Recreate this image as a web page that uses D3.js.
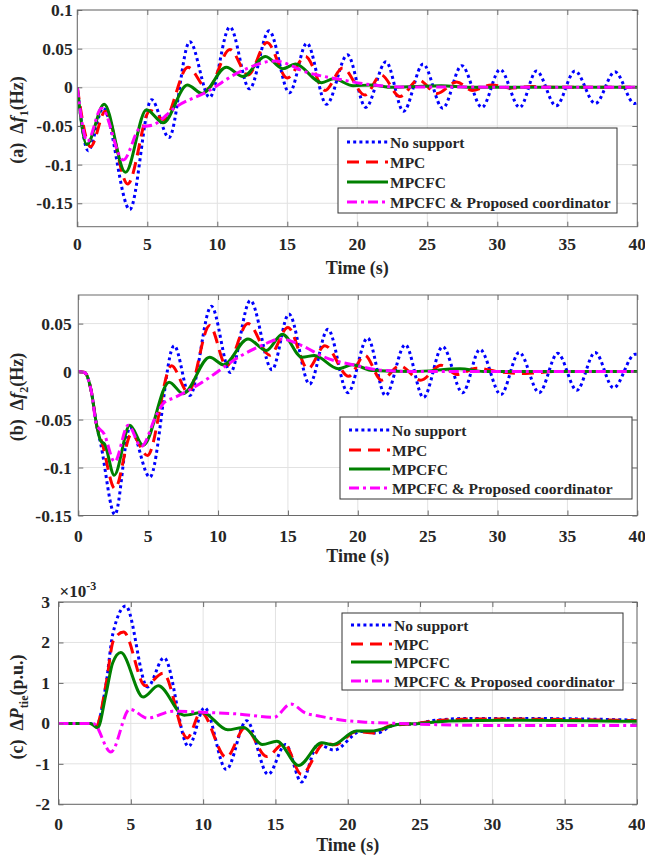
<!DOCTYPE html>
<html><head><meta charset="utf-8">
<script src="https://cdn.jsdelivr.net/npm/d3@7"></script>
<style>
body{margin:0;background:#fff}
svg{display:block}
text{font-family:"Liberation Serif","Times New Roman",serif;font-weight:bold;fill:#262626}
</style>
</head><body>
<svg id="chart" width="645" height="856"></svg>
<script>
// ---------------- DATA ----------------
const timeTicks = [0, 5, 10, 15, 20, 25, 30, 35, 40];
const seriesNames = ["No support", "MPC", "MPCFC", "MPCFC & Proposed coordinator"];

// (a) Δf1 (Hz) — [time s, value]
const f1NoSupport = [[0,0],[0.78,-0.082],[1.85,-0.027],[3.75,-0.158],[5.3,-0.016],[6.55,-0.065],[8.03,0.059],[9.45,-0.013],[10.9,0.078],[12.3,-0.002],[13.7,0.073],[15.15,-0.007],[16.4,0.057],[17.8,-0.022],[19.3,0.042],[20.6,-0.026],[22.05,0.033],[23.3,-0.031],[24.7,0.030],[26.1,-0.027],[27.46,0.028],[28.9,-0.026],[30.2,0.023],[31.6,-0.026],[32.8,0.021],[34.2,-0.024],[35.55,0.021],[37.0,-0.021],[38.4,0.020],[39.8,-0.021],[40,-0.020]];
const f1MPC = [[0,0],[0.95,-0.077],[2.0,-0.031],[3.6,-0.125],[5.2,-0.030],[6.2,-0.042],[7.9,0.026],[9.3,-0.002],[10.9,0.049],[12.2,0.016],[13.55,0.058],[15.0,0.012],[16.3,0.040],[17.7,-0.004],[18.95,0.025],[20.55,-0.010],[21.7,0.016],[23.05,-0.012],[24.36,0.0095],[25.7,-0.008],[27.1,0.007],[28.2,-0.004],[29.6,0.003],[31,-0.001],[32.5,0.001],[34,0],[40,0]];
const f1MPCFC = [[0,0],[0.67,-0.074],[1.92,-0.022],[3.44,-0.110],[4.94,-0.029],[6.13,-0.046],[7.86,0.003],[8.93,-0.008],[10.64,0.026],[11.83,0.014],[13.44,0.040],[14.68,0.024],[15.58,0.030],[17.45,0.006],[18.3,0.011],[19.7,0.002],[21.0,0.003],[22.5,0.0],[26,0.002],[28,0],[40,0]];
const f1Proposed = [[0,0],[0.72,-0.070],[1.73,-0.027],[3.28,-0.094],[4.5,-0.052],[5.5,-0.048],[7.0,-0.026],[9.33,-0.005],[11.7,0.021],[14.1,0.034],[16.46,0.019],[18.8,0.010],[20.7,0.004],[23,0.0005],[40,0]];
const f1Ticks = [-0.15, -0.1, -0.05, 0, 0.05, 0.1];
const f1TickLabels = ["-0.15", "-0.1", "-0.05", "0", "0.05", "0.1"];

// (b) Δf2 (Hz)
const f2NoSupport = [[0,0],[0.45,-0.001],[0.95,-0.022],[1.3,-0.055],[1.6,-0.075],[2.62,-0.149],[3.7,-0.058],[5.12,-0.110],[6.86,0.027],[7.98,-0.025],[9.52,0.068],[10.88,-0.001],[12.31,0.074],[13.86,0.002],[15.07,0.060],[16.55,-0.013],[17.86,0.044],[19.29,-0.022],[20.7,0.035],[21.98,-0.025],[23.4,0.028],[24.7,-0.027],[26.07,0.026],[27.5,-0.022],[28.74,0.023],[30.24,-0.024],[31.55,0.020],[32.98,-0.022],[34.3,0.019],[35.67,-0.0195],[36.98,0.020],[38.3,-0.017],[39.84,0.018],[40,0.018]];
const f2MPC = [[0,0],[0.45,-0.001],[0.95,-0.022],[1.3,-0.055],[1.7,-0.074],[2.62,-0.122],[3.8,-0.065],[4.95,-0.0875],[6.67,0.006],[7.86,-0.0215],[9.4,0.048],[10.6,0.006],[12.14,0.050],[13.7,0.017],[15.0,0.046],[16.43,0.003],[17.65,0.027],[19.35,-0.005],[20.5,0.017],[21.7,-0.009],[23.0,0.006],[24.5,-0.009],[25.96,0.0066],[27.1,-0.003],[28.5,0.0035],[30,0],[32,-0.002],[34,0],[40,0]];
const f2MPCFC = [[0,0],[0.45,-0.001],[0.95,-0.022],[1.3,-0.055],[1.6,-0.072],[1.9,-0.076],[2.57,-0.108],[3.69,-0.056],[4.64,-0.077],[6.5,-0.011],[7.5,-0.023],[9.4,0.015],[10.4,0.007],[12.14,0.034],[13.45,0.022],[14.6,0.039],[16.0,0.015],[16.9,0.0167],[18.6,0.003],[19.6,0.007],[21.1,0.001],[24,0],[27.3,0.003],[29,0],[40,0]];
const f2Proposed = [[0,0],[0.45,-0.001],[0.95,-0.022],[1.3,-0.055],[1.85,-0.065],[2.6,-0.094],[3.57,-0.056],[4.5,-0.078],[5.6,-0.045],[6.1,-0.033],[6.9,-0.027],[8.1,-0.018],[9.3,-0.007],[10.5,0.0055],[11.67,0.0167],[13.1,0.027],[14.5,0.034],[16,0.027],[17.6,0.015],[20,0.006],[21.6,0.0015],[24,0],[40,0]];
const f2Ticks = [-0.15, -0.1, -0.05, 0, 0.05];
const f2TickLabels = ["-0.15", "-0.1", "-0.05", "0", "0.05"];

// (c) ΔPtie (p.u.), values in units of 1e-3
const pNoSupport = [[0,0],[2.2,0],[2.6,-0.07],[3.3,1.0],[3.75,2.2],[4.65,2.90],[6.15,0.90],[7.3,1.62],[8.99,-0.57],[10.1,0.39],[11.6,-1.14],[13.0,0.065],[14.5,-1.26],[15.7,-0.52],[16.8,-1.45],[17.95,-0.52],[19.05,-0.66],[20.9,-0.2],[22.0,-0.24],[23.3,-0.03],[24.5,-0.02],[25.9,0.07],[28.2,0.12],[32.8,0.12],[40,0.08]];
const pMPC = [[0,0],[2.2,0],[2.6,-0.07],[3.3,1.0],[3.8,2.05],[4.5,2.26],[6.0,0.93],[7.24,1.24],[8.9,-0.36],[9.85,0.28],[11.6,-0.84],[12.9,-0.11],[14.4,-0.82],[15.6,-0.5],[16.8,-1.26],[18.4,-0.49],[19.1,-0.53],[20.6,-0.2],[21.8,-0.24],[22.9,-0.06],[24.75,0],[26.5,0.08],[29,0.11],[34,0.1],[40,0.07]];
const pMPCFC = [[0,0],[2.2,0],[2.7,-0.11],[3.3,0.75],[3.75,1.5],[4.31,1.75],[5.85,0.65],[6.9,0.93],[8.69,0.2],[9.95,0.27],[11.7,-0.16],[12.8,-0.1],[14.1,-0.52],[15.1,-0.44],[16.6,-1.04],[18.2,-0.48],[18.95,-0.53],[20.6,-0.19],[21.6,-0.19],[23.6,-0.02],[25,0],[27,0.06],[32,0.08],[40,0.05]];
const pProposed = [[0,0],[2.4,0],[3.62,-0.71],[4.93,0.35],[6.15,0.13],[7.9,0.3],[10.2,0.27],[12.5,0.23],[14.9,0.15],[16.06,0.48],[17.1,0.25],[17.9,0.19],[19.4,0.09],[21.2,0.03],[23.6,0],[25.9,-0.03],[30,-0.05],[40,-0.05]];
const pTicks = [-2, -1, 0, 1, 2, 3];
const pTickLabels = ["-2", "-1", "0", "1", "2", "3"];

// ---------------- STYLES ----------------
const styles = [
  {color:"#0000ff", width:3, dash:"3,3.2"},
  {color:"#ff0000", width:3, dash:"12,7"},
  {color:"#008000", width:3, dash:null},
  {color:"#ff00ff", width:3, dash:"10,4,3,4"}
];

const panels = [
  {series:[f1NoSupport,f1MPC,f1MPCFC,f1Proposed], yDomain:[-0.1803,0.1], ticks:f1Ticks, tickLabels:f1TickLabels,
   left:77.3, right:637.3, top:10, bottom:226.7, yLabOff:4.5, xLabY:249.5, timeY:274,
   label:{cy:120, tag:"(a)", sym:"f", sub:"1", unit:"(Hz)"},
   legend:{x:338, y:128, w:279, h:85, rows:[142,162,182,202]}},
  {series:[f2NoSupport,f2MPC,f2MPCFC,f2Proposed], yDomain:[-0.15,0.0798], ticks:f2Ticks, tickLabels:f2TickLabels,
   left:78.3, right:637.3, top:295, bottom:515.5, yLabOff:6.5, xLabY:541.5, timeY:562,
   label:{cy:397, tag:"(b)", sym:"f", sub:"2", unit:"(Hz)"},
   legend:{x:340, y:417, w:292, h:82, rows:[430,450,469,488]}},
  {series:[pNoSupport,pMPC,pMPCFC,pProposed], yDomain:[-2,3], ticks:pTicks, tickLabels:pTickLabels,
   left:58.5, right:637, top:602, bottom:804.3, yLabOff:8.5, xLabY:829.5, timeY:851,
   label:{cy:707, tag:"(c)", sym:"P", sub:"tie", unit:"(p.u.)"},
   legend:{x:342, y:613, w:281, h:77, rows:[625,644,662,681]}, exponent:true}
];

const svg = d3.select("#chart");

panels.forEach((p, pi) => {
  const x = d3.scaleLinear().domain([0,40]).range([p.left, p.right]);
  const y = d3.scaleLinear().domain(p.yDomain).range([p.bottom, p.top]);
  const w = p.right - p.left, h = p.bottom - p.top;
  const g = svg.append("g");

  g.append("rect").attr("x",p.left).attr("y",p.top).attr("width",w).attr("height",h).attr("fill","#fff");

  const grid = g.append("g").attr("stroke","#e2e2e2").attr("stroke-width",1);
  timeTicks.forEach(t => grid.append("line").attr("x1",x(t)).attr("x2",x(t)).attr("y1",p.top).attr("y2",p.bottom));
  p.ticks.forEach(v => grid.append("line").attr("y1",y(v)).attr("y2",y(v)).attr("x1",p.left).attr("x2",p.right));

  const clipId = "clip"+pi;
  svg.append("clipPath").attr("id",clipId).append("rect")
    .attr("x",p.left).attr("y",p.top-2).attr("width",w).attr("height",h+4);
  const line = d3.line().x(d=>x(d[0])).y(d=>y(d[1])).curve(d3.curveMonotoneX);
  const cg = g.append("g").attr("clip-path",`url(#${clipId})`);
  p.series.forEach((s, i) => {
    const st = styles[i];
    cg.append("path").attr("d", line(s)).attr("fill","none")
      .attr("stroke", st.color).attr("stroke-width", st.width)
      .attr("stroke-dasharray", st.dash).attr("stroke-linejoin","round");
  });

  const axCol = "#6a6a6a";
  const axB = g.append("g").attr("transform",`translate(0,${p.bottom})`)
    .call(d3.axisBottom(x).tickValues(timeTicks).tickSize(-5).tickFormat(""));
  const axT = g.append("g").attr("transform",`translate(0,${p.top})`)
    .call(d3.axisTop(x).tickValues(timeTicks).tickSize(-5).tickFormat(""));
  const axL = g.append("g").attr("transform",`translate(${p.left},0)`)
    .call(d3.axisLeft(y).tickValues(p.ticks).tickSize(-5).tickFormat(""));
  const axR = g.append("g").attr("transform",`translate(${p.right},0)`)
    .call(d3.axisRight(y).tickValues(p.ticks).tickSize(-5).tickFormat(""));
  [axB,axT,axL,axR].forEach(a => { a.select(".domain").remove(); a.selectAll("line").attr("stroke",axCol); });
  g.append("rect").attr("x",p.left).attr("y",p.top).attr("width",w).attr("height",h)
    .attr("fill","none").attr("stroke",axCol).attr("stroke-width",1);

  timeTicks.forEach(t => g.append("text").attr("x",x(t)).attr("y",p.xLabY)
    .attr("text-anchor","middle").attr("font-size",17.5).text(String(t)));
  p.ticks.forEach((v,k) => g.append("text").attr("x",p.left - p.yLabOff).attr("y",y(v)+6)
    .attr("text-anchor","end").attr("font-size",17.5).text(p.tickLabels[k]));

  g.append("text").attr("x",(p.left+p.right)/2).attr("y",p.timeY)
    .attr("text-anchor","middle").attr("font-size",18).text("Time (s)");

  const yl = g.append("text").attr("transform",`translate(23,${p.label.cy}) rotate(-90)`)
    .attr("text-anchor","middle").attr("font-size",18);
  yl.append("tspan").text(p.label.tag);
  yl.append("tspan").attr("dx",9).text("\u0394");
  yl.append("tspan").attr("font-style","italic").text(p.label.sym);
  yl.append("tspan").attr("font-size",12).attr("dy",5).text(p.label.sub);
  yl.append("tspan").attr("dy",-5).text(p.label.unit);

  if (p.exponent) {
    const ex = g.append("text").attr("x",p.left+1).attr("y",p.top-5).attr("font-size",17).attr("font-weight","normal");
    ex.append("tspan").text("\u00d710");
    ex.append("tspan").attr("font-size",12).attr("dy",-7).text("-3");
  }

  const L = p.legend;
  g.append("rect").attr("x",L.x).attr("y",L.y).attr("width",L.w).attr("height",L.h)
    .attr("fill","#fff").attr("stroke","#333").attr("stroke-width",1);
  seriesNames.forEach((name, i) => {
    const st = styles[i];
    const ry = L.rows[i];
    g.append("line").attr("x1",L.x+9).attr("x2",L.x+50).attr("y1",ry).attr("y2",ry)
      .attr("stroke",st.color).attr("stroke-width",st.width).attr("stroke-dasharray",st.dash);
    g.append("text").attr("x",L.x+52).attr("y",ry+5.5).attr("font-size",15.5).text(name);
  });
});
</script>
</body></html>
